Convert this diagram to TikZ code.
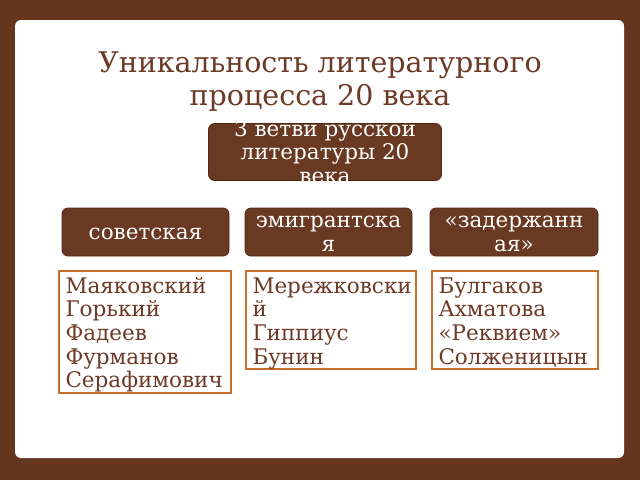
\documentclass[tikz,border=0pt]{standalone}
\usepackage{fontspec}
\setmainfont{DejaVu Serif}
\usepackage{tikz}
\usepackage{xcolor}

\definecolor{bgbrown}{RGB}{101,53,30}
\definecolor{boxbrown}{RGB}{106,57,33}
\definecolor{edgebrown}{RGB}{80,40,20}
\definecolor{textbrown}{RGB}{108,58,38}
\definecolor{listorange}{RGB}{200,110,45}

% struts for the first and last line of a box
\newcommand{\linetop}[1]{\rule{0pt}{#1}}
\newcommand{\linebot}[1]{\rule[-#1]{0pt}{0pt}}

\begin{document}
\begin{tikzpicture}[x=1pt, y=-1pt,
  titletext/.style={text=textbrown, align=center, font=\fontsize{28.5}{33.5}\selectfont},
  branchbox/.style={fill=boxbrown, draw=edgebrown, line width=0.8pt, rounded corners=6pt,
    text=white, align=center, inner xsep=0pt, inner ysep=-1pt,
    font=\fontsize{21.5}{24.5}\selectfont},
  listbox/.style={fill=white, draw=listorange, line width=2pt, anchor=north west,
    text=textbrown, align=left, inner xsep=6.5pt, inner ysep=0pt,
    font=\fontsize{21.5}{23.7}\selectfont}]
\useasboundingbox (0,0) rectangle (640,480);
\fill[bgbrown] (0,0) rectangle (640,480);
\fill[white, rounded corners=6pt] (15,20) rectangle (624,458);

\node[titletext] (title) at (320,81.5) {Уникальность литературного\\процесса 20 века};

\node[branchbox, font=\fontsize{21.5}{23.5}\selectfont, inner ysep=-7.5pt,
  minimum width=233pt, minimum height=57pt]
  (root) at (325,152) {\linetop{20pt}3 ветви русской\\литературы 20\\века\linebot{5pt}};

\node[branchbox, minimum width=167pt, minimum height=48pt] (sov) at (145.5,232)
  {\linetop{20pt}советская\linebot{5pt}};
\node[branchbox, minimum width=167pt, minimum height=48pt] (emig) at (328.5,232)
  {\linetop{20pt}эмигрантска\\я\linebot{5pt}};
\node[branchbox, minimum width=168pt, minimum height=48pt] (zad) at (514,232)
  {\linetop{20pt}«задержанн\\ая»\linebot{5pt}};

\node[listbox, text width=159pt] (sovlist) at (58,270)
  {\linetop{22pt}Маяковский\\Горький\\Фадеев\\Фурманов\\Серафимович\linebot{5.3pt}};
\node[listbox, text width=157pt] (emiglist) at (245,270)
  {\linetop{22pt}Мережковски\\й\\Гиппиус\\Бунин\linebot{5.3pt}};
\node[listbox, text width=153pt] (zadlist) at (431,270)
  {\linetop{22pt}Булгаков\\Ахматова\\«Реквием»\\Солженицын\linebot{5.3pt}};

\end{tikzpicture}
\end{document}
